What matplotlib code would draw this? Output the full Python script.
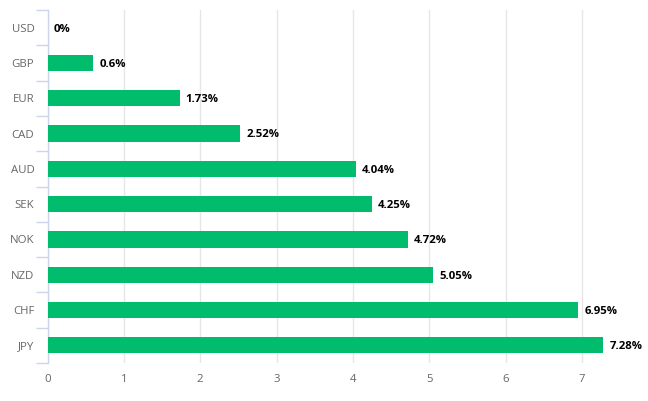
import matplotlib.pyplot as plt
import numpy as np

plt.rcParams['font.family'] = ['Open Sans', 'DejaVu Sans']

currencies = ["USD", "GBP", "EUR", "CAD", "AUD", "SEK", "NOK", "NZD", "CHF", "JPY"]
values = [0, 0.6, 1.73, 2.52, 4.04, 4.25, 4.72, 5.05, 6.95, 7.28]
value_labels = ["0%", "0.6%", "1.73%", "2.52%", "4.04%", "4.25%", "4.72%", "5.05%", "6.95%", "7.28%"]
x_ticks = [0, 1, 2, 3, 4, 5, 6, 7]

bar_color = "#00bc6c"
axis_color = "#ccd6eb"
grid_color = "#e6e6e6"
label_color = "#666666"

fig = plt.figure(figsize=(6.48, 4.01), dpi=100)
ax = fig.add_axes([47.5 / 648, 38 / 401, 597 / 648, 353 / 401])

y = np.arange(len(currencies))
ax.barh(y, values, height=0.46, color=bar_color, zorder=3)

# value labels at the end of each bar
for yi, v, lab in zip(y, values, value_labels):
    ax.annotate(lab, xy=(v, yi), xytext=(4.5, -1), textcoords="offset points",
                va="center", ha="left", fontsize=8.2, fontweight="bold",
                color="#000000", zorder=4)

ax.set_xlim(0, 7.82)
ax.set_ylim(len(currencies) - 0.5, -0.5)

ax.set_xticks(x_ticks)
ax.set_xticklabels([str(t) for t in x_ticks])
ax.set_yticks(y)
ax.set_yticklabels(currencies)
ax.set_yticks(np.arange(-0.5, len(currencies), 1), minor=True)

ax.tick_params(axis="x", length=0, pad=8, labelsize=8.2, labelcolor=label_color)
ax.tick_params(axis="y", which="major", length=0, pad=9.5, labelsize=8.2, labelcolor=label_color)
ax.tick_params(axis="y", which="minor", length=9, width=1, color=axis_color)

ax.grid(axis="x", color=grid_color, linewidth=1, zorder=0)
ax.grid(axis="y", visible=False)

for s in ["top", "right", "bottom"]:
    ax.spines[s].set_visible(False)
ax.spines["left"].set_color(axis_color)
ax.spines["left"].set_linewidth(1)

fig.savefig("out.png", dpi=100)
